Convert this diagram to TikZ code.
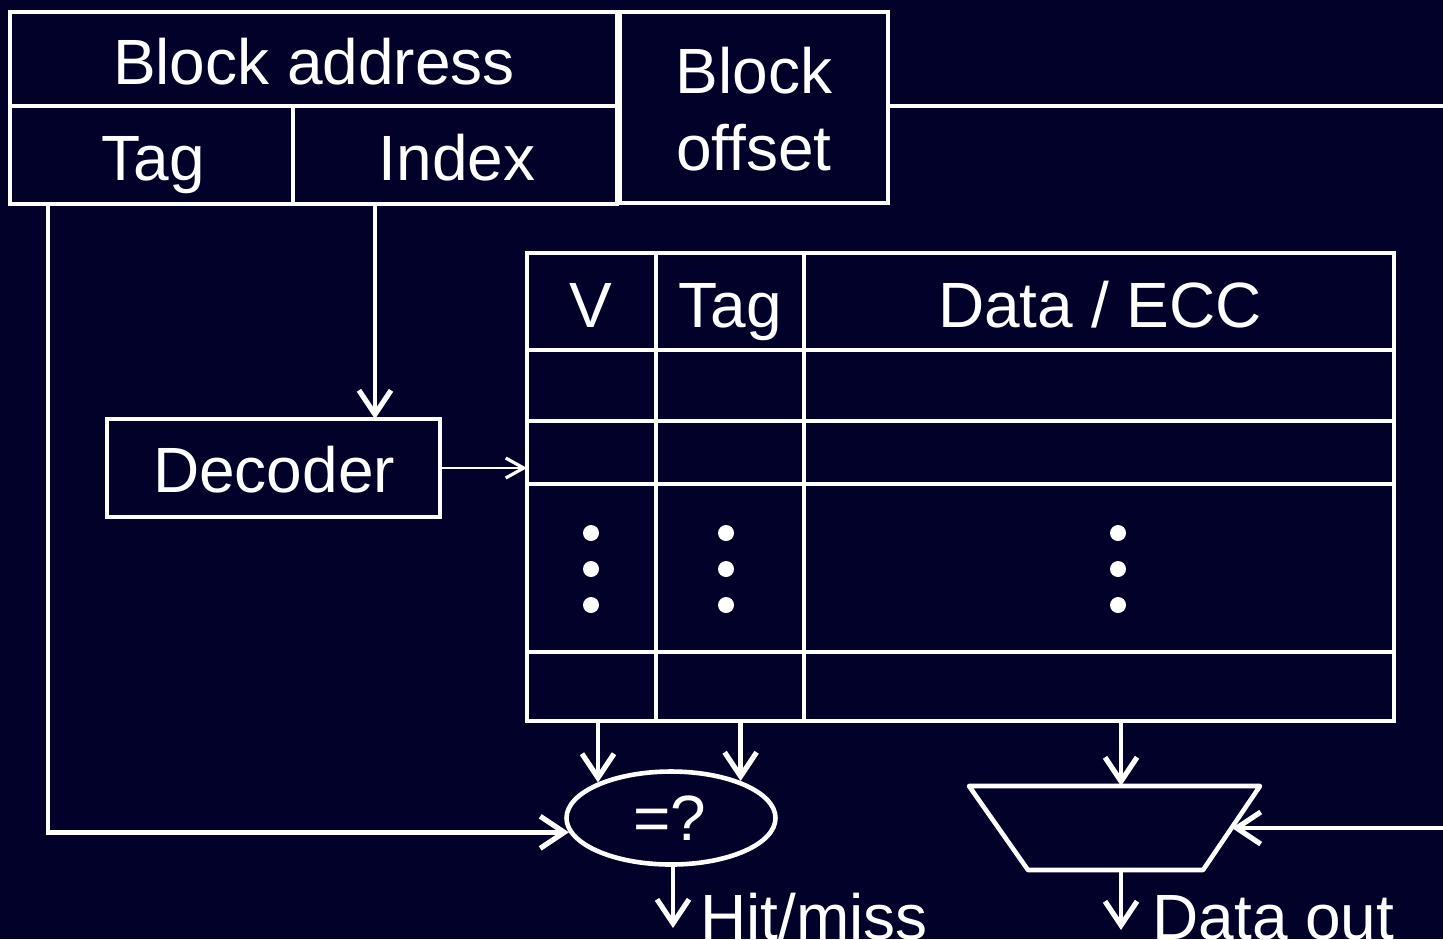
\documentclass[tikz,border=0pt]{standalone}
\usepackage{fontspec}
\setmainfont{Liberation Sans}
\usetikzlibrary{arrows.meta,fit,shapes.geometric}
\definecolor{bgnavy}{RGB}{1,1,42}
\begin{document}
\begin{tikzpicture}[x=0.5pt,y=-0.5pt,
  wire/.style={white,line width=2.3pt},
  box/.style={draw=white,line width=2.3pt,inner sep=0pt,outer sep=0pt},
  lbl/.style={text=white,font=\fontsize{32}{38.5}\selectfont,inner sep=0pt,anchor=base},
  arr/.style={wire,-{Straight Barb[length=12pt,width=16pt,line width=2.6pt]}},
  thinarr/.style={white,line width=1pt,-{Straight Barb[length=9pt,width=10pt,line width=1.6pt]}},
  dot/.style={circle,fill=white,minimum size=8pt,inner sep=0pt}]

\useasboundingbox (0,0) rectangle (1443,939);
\fill[bgnavy] (0,0) rectangle (1443,939);
\clip (0,0) rectangle (1443,939);

% address fields
\node[box,fit={(10,12) (617,106)}] (baddr) {};
\node[box,fit={(10,106) (293,204)}] (tagf) {};
\node[box,fit={(293,106) (617,204)}] (idxf) {};
\node[box,fit={(620,12) (888,203)}] (boff) {};
\node[lbl] (lbaddr) at (314,84) {Block address};
\node[lbl] (ltagf) at (153,180) {Tag};
\node[lbl] (lidxf) at (457,180) {Index};
\node[lbl] (lblock) at (754,93) {Block};
\node[lbl] (loffset) at (754,170) {offset};

% decoder
\node[box,fit={(107,419) (440,517)}] (dec) {};
\node[lbl] (ldec) at (274,492) {Decoder};

% cache array
\node[box,fit={(527,253) (1394,721)}] (tbl) {};
\foreach \yy in {350,421,484,652}
  \draw[wire] (527,\yy) -- (1394,\yy);
\foreach \xx in {656,804}
  \draw[wire] (\xx,253) -- (\xx,721);
\node[lbl] (lv) at (591,327) {V};
\node[lbl] (ltag) at (730,327) {Tag};
\node[lbl] (ldata) at (1100,327) {Data / ECC};
\foreach \xx/\nm in {591/a,726/b,1118/c}
  \foreach \yy/\k in {533/1,569/2,605/3}
    \node[dot] (dot\nm\k) at (\xx,\yy) {};

% tag comparator
\node[ellipse,draw=white,line width=2.3pt,minimum width=104.5pt,minimum height=46.5pt,inner sep=0pt] (cmp) at (671,818) {};
\node[lbl] (lcmp) at (670,840) {=?};

% output multiplexer
\coordinate (mtl) at (969,786);
\coordinate (mtr) at (1260,786);
\coordinate (mbr) at (1203,870);
\coordinate (mbl) at (1028,870);
\draw[wire,line join=round] (mtl) -- (mtr) -- (mbr) -- (mbl) -- cycle;
\coordinate (muxtop) at (1121,786);
\coordinate (muxbot) at (1121,870);
\coordinate (muxin) at (1232,828);

% output labels
\coordinate (hitend) at (673,928);
\coordinate (dataend) at (1121,930);
\node[lbl,anchor=base west] (lhit) at (700,939) {Hit/miss};
\node[lbl,anchor=base west] (ldout) at (1152,939) {Data out};

% connectors
\coordinate (tagx) at (48,0);
\coordinate (idxx) at (375,0);
\coordinate (offx) at (1475,0);
\draw[arr] (tagf.south -| tagx) |- (cmp.188);
\draw[arr] (idxf.south -| idxx) -- (dec.north -| idxx);
\draw[thinarr] (dec.east) -- (tbl.west |- dec.east);
\draw[arr] (tbl.south -| cmp.154) -- (cmp.154);
\draw[arr] (tbl.south -| cmp.28) -- (cmp.28);
\draw[arr] (tbl.south -| muxtop) -- (muxtop);
\draw[arr] (cmp.south -| hitend) -- (hitend);
\draw[arr] (muxbot) -- (dataend);
\draw[arr] (boff.east |- 0,106) -| (offx |- muxin) -- (muxin);
\end{tikzpicture}
\end{document}
